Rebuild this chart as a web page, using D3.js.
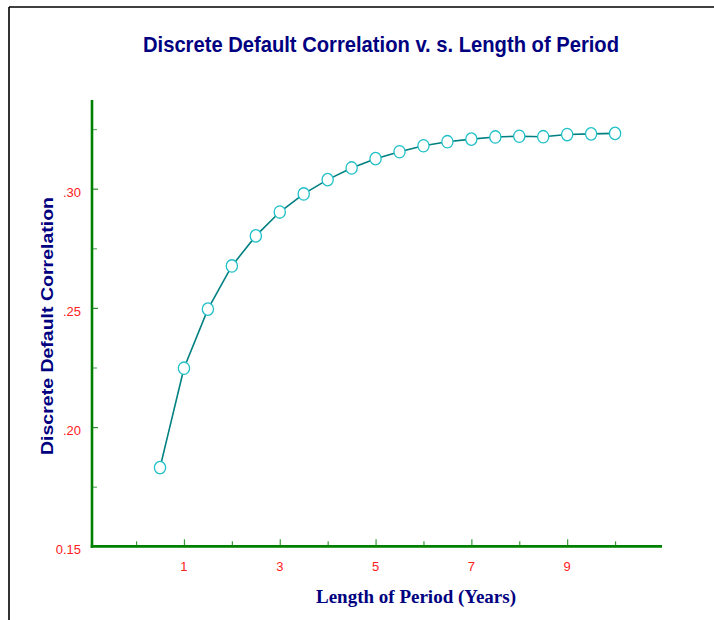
<!DOCTYPE html>
<html>
<head>
<meta charset="utf-8">
<script src="https://cdn.jsdelivr.net/npm/d3@7"></script>
<style>
  html, body { margin: 0; padding: 0; background: #fff; }
  svg { display: block; }
</style>
</head>
<body>
<svg id="chart" width="714" height="620"></svg>
<script>
// ---- data ----
const periods = [0.5, 1, 1.5, 2, 2.5, 3, 3.5, 4, 4.5, 5, 5.5, 6, 6.5, 7, 7.5, 8, 8.5, 9, 9.5, 10];
const correlation = [0.183, 0.2247, 0.2495, 0.2676, 0.2802, 0.2902, 0.2978, 0.3038, 0.3087, 0.3126,
                     0.3155, 0.3180, 0.3197, 0.3208, 0.3217, 0.3220, 0.3218, 0.3227, 0.3230, 0.3232];
const xMajorTicks = [1, 3, 5, 7, 9];
const xMinorTicks = [0, 2, 4, 6, 8, 10];
const yMajorTicks = [0.15, 0.20, 0.25, 0.30];
const yMajorLabels = ["0.15", ".20", ".25", ".30"];
const yMinorTicks = [0.175, 0.225, 0.275, 0.325];
const title = "Discrete Default Correlation v. s. Length of Period";
const xTitle = "Length of Period (Years)";
const yTitle = "Discrete Default Correlation";

// ---- layout ----
const svg = d3.select("#chart");
const x = d3.scaleLinear().domain([-0.92, 10.98]).range([92, 662]);
const y = d3.scaleLinear().domain([0.15, 0.3372]).range([546.3, 100]);
const axisColor = "#008000";
const tickColor = "#ff2020";

// frame
svg.append("line").attr("x1", 9).attr("x2", 714).attr("y1", 7).attr("y2", 7)
  .attr("stroke", "#000").attr("stroke-width", 1.6);
svg.append("line").attr("x1", 9).attr("x2", 9).attr("y1", 7).attr("y2", 620)
  .attr("stroke", "#000").attr("stroke-width", 1.6);

// title
svg.append("text").attr("x", 381).attr("y", 52).attr("text-anchor", "middle")
  .attr("font-family", "Liberation Sans, Arial, sans-serif").attr("font-weight", "bold")
  .attr("font-size", 22).attr("fill", "#000080")
  .attr("textLength", 476).attr("lengthAdjust", "spacingAndGlyphs")
  .text(title);

// y axis title
svg.append("text").attr("transform", "translate(53,326) rotate(-90)")
  .attr("text-anchor", "middle")
  .attr("font-family", "Liberation Sans, Arial, sans-serif").attr("font-weight", "bold")
  .attr("font-size", 17).attr("fill", "#000080")
  .attr("textLength", 258).attr("lengthAdjust", "spacingAndGlyphs")
  .text(yTitle);

// x axis title
svg.append("text").attr("x", 416).attr("y", 603).attr("text-anchor", "middle")
  .attr("font-family", "Liberation Serif, 'Times New Roman', serif").attr("font-weight", "bold")
  .attr("font-size", 19).attr("fill", "#000080")
  .text(xTitle);

// x axis ticks (pointing up, inside)
const xAxisMajor = d3.axisBottom(x).tickValues(xMajorTicks).tickSize(-7).tickPadding(0).tickFormat(() => "");
const xAxisMinor = d3.axisBottom(x).tickValues(xMinorTicks).tickSize(-5).tickFormat(() => "");
const gxMin = svg.append("g").attr("transform", `translate(0,${y(0.15)})`).call(xAxisMinor);
const gxMaj = svg.append("g").attr("transform", `translate(0,${y(0.15)})`).call(xAxisMajor);
[gxMin, gxMaj].forEach(g => {
  g.select(".domain").remove();
  g.selectAll(".tick line").attr("stroke", "#3a9a3a").attr("stroke-width", 1.2);
});
svg.selectAll(null).data(xMajorTicks).enter().append("text")
  .attr("x", d => x(d)).attr("y", 571).attr("text-anchor", "middle")
  .attr("font-family", "Liberation Sans, Arial, sans-serif").attr("font-size", 13)
  .attr("fill", tickColor).text(d => d);

// y axis ticks (pointing right, inside)
const yAxisMajor = d3.axisLeft(y).tickValues(yMajorTicks.slice(1)).tickSize(-6).tickFormat(() => "");
const yAxisMinor = d3.axisLeft(y).tickValues(yMinorTicks).tickSize(-5).tickFormat(() => "");
const gyMin = svg.append("g").attr("transform", `translate(${x.range()[0]},0)`).call(yAxisMinor);
const gyMaj = svg.append("g").attr("transform", `translate(${x.range()[0]},0)`).call(yAxisMajor);
[gyMin, gyMaj].forEach(g => {
  g.select(".domain").remove();
  g.selectAll(".tick line").attr("stroke", "#2a8f2a").attr("stroke-width", 1.2);
});
gyMin.selectAll(".tick line").attr("stroke", "#5fb05f");
svg.selectAll(null).data(yMajorTicks).enter().append("text")
  .attr("x", 81).attr("y", d => y(d) + 8).attr("text-anchor", "end")
  .attr("font-family", "Liberation Sans, Arial, sans-serif").attr("font-size", 13)
  .attr("fill", tickColor).text((d, i) => yMajorLabels[i]);

// axis lines
svg.append("line").attr("x1", x.range()[0]).attr("x2", x.range()[0])
  .attr("y1", y.range()[1]).attr("y2", y.range()[0] + 1.5)
  .attr("stroke", axisColor).attr("stroke-width", 2.6);
svg.append("line").attr("x1", x.range()[0] - 1.3).attr("x2", x.range()[1])
  .attr("y1", y.range()[0]).attr("y2", y.range()[0])
  .attr("stroke", axisColor).attr("stroke-width", 2.8);

// line series
const pts = periods.map((p, i) => [p, correlation[i]]);
svg.append("path").datum(pts)
  .attr("d", d3.line().x(d => x(d[0])).y(d => y(d[1])))
  .attr("fill", "none").attr("stroke", "#008080").attr("stroke-width", 1.6);

svg.selectAll("ellipse.pt").data(pts).enter().append("ellipse").attr("class", "pt")
  .attr("cx", d => x(d[0])).attr("cy", d => y(d[1]))
  .attr("rx", 5.6).attr("ry", 6.2)
  .attr("fill", "#fff").attr("stroke", "#20c0c8").attr("stroke-width", 1.3);
</script>
</body>
</html>
